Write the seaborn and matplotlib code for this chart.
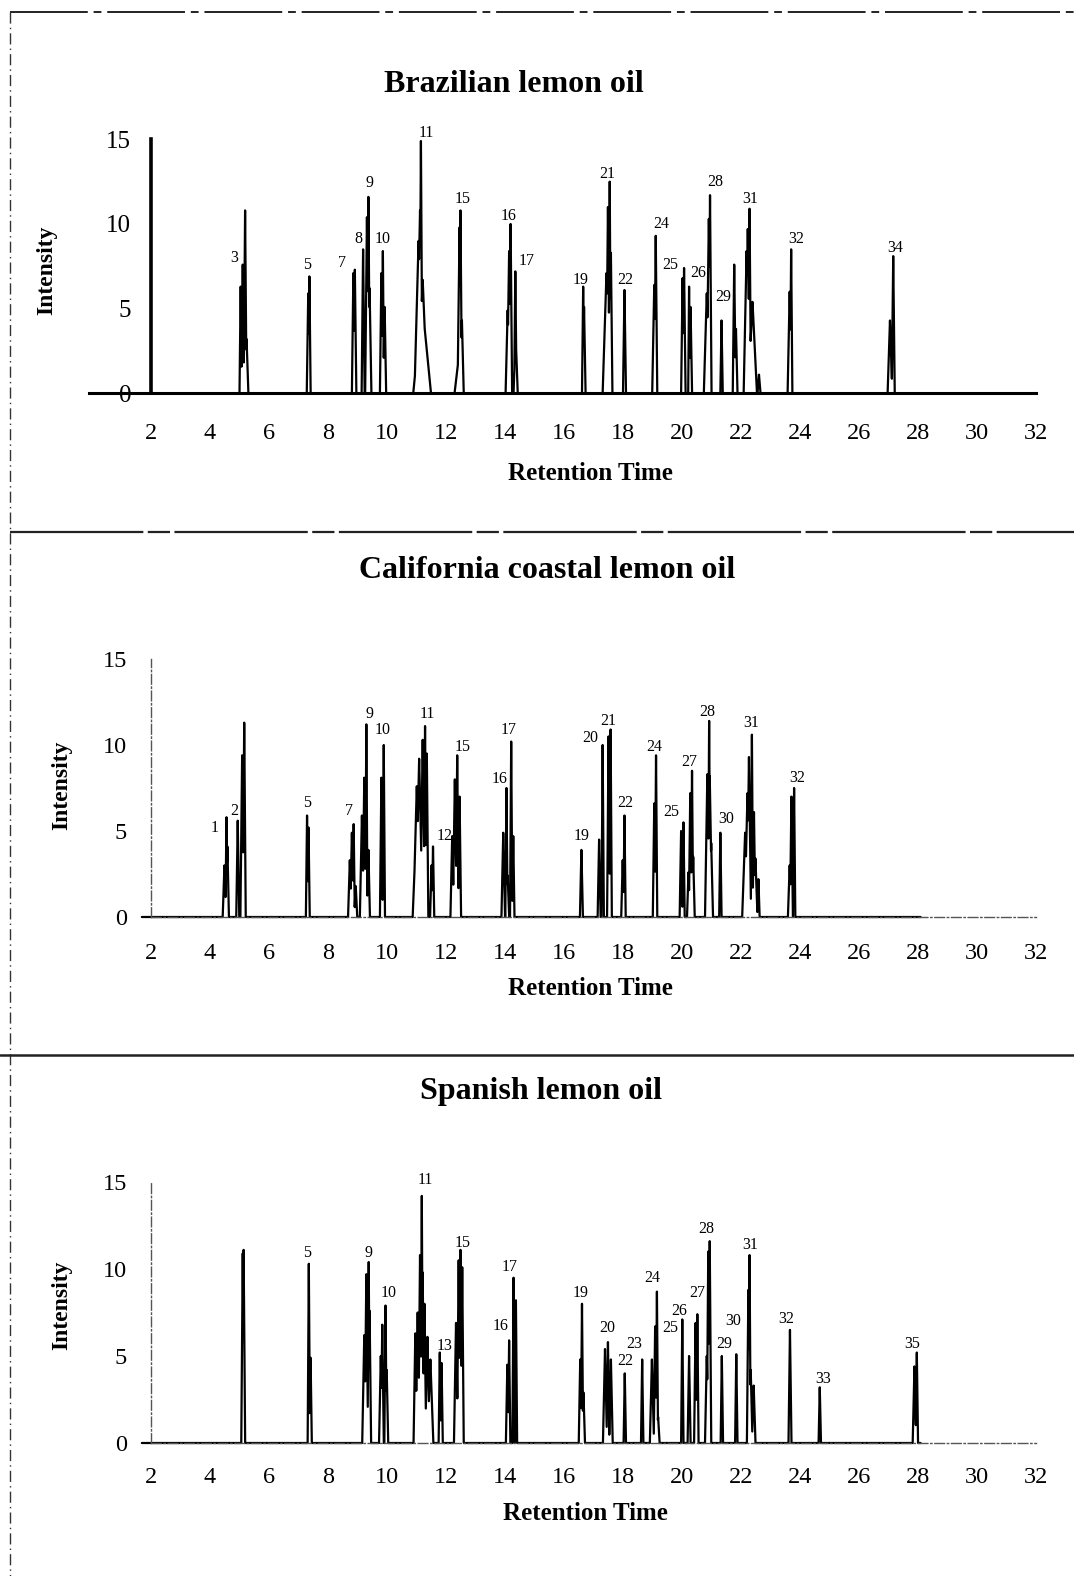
import numpy as np
import pandas as pd
import matplotlib
matplotlib.use("Agg")
import matplotlib.pyplot as plt
import seaborn as sns
from matplotlib.lines import Line2D

sns.set_theme(style="white")
plt.rcParams["font.family"] = ["Liberation Serif", "DejaVu Serif"]
plt.rcParams["text.color"] = "black"
plt.rcParams["xtick.color"] = "black"
plt.rcParams["ytick.color"] = "black"

# ---- peak tables (retention time, height, half width) ----
bra_rt = [5.05, 5.12, 5.20, 5.25, 7.38, 7.34, 8.92, 8.87, 9.20, 9.38, 9.33, 9.42,
          9.87, 9.82, 9.93, 11.16, 11.13, 11.08, 11.22, 11.20, 12.50, 12.47, 12.45, 12.55,
          14.20, 14.15, 14.10, 14.36, 14.37, 16.66, 16.69, 17.56, 17.50, 17.45, 17.60,
          18.06, 19.12, 19.07, 20.08, 20.03, 20.25, 20.30, 20.96, 20.92, 20.85, 21.35,
          21.78, 21.84, 22.30, 22.24, 22.20, 22.40, 22.62, 23.71, 23.66, 27.17, 27.06]
bra_h = [6.3, 7.6, 10.8, 3.2, 6.9, 5.9, 7.3, 7.1, 8.5, 11.6, 10.4, 6.2,
         8.4, 7.1, 5.1, 14.9, 10.8, 9.0, 6.7, 5.4, 10.8, 9.8, 2.2, 4.3,
         10.0, 8.4, 4.9, 7.2, 3.5, 6.3, 5.1, 12.5, 11.0, 7.1, 8.3,
         6.1, 9.3, 6.4, 7.4, 6.8, 6.3, 5.1, 11.7, 10.3, 5.9, 4.3,
         7.6, 3.8, 10.9, 9.7, 8.4, 5.4, 1.1, 8.5, 6.0, 8.1, 4.3]
bra_w = [0.04, 0.05, 0.05, 0.06, 0.04, 0.05, 0.05, 0.05, 0.05, 0.05, 0.06, 0.06,
         0.04, 0.05, 0.05, 0.05, 0.12, 0.14, 0.15, 0.30, 0.05, 0.07, 0.15, 0.06,
         0.05, 0.07, 0.07, 0.04, 0.07, 0.04, 0.05, 0.04, 0.06, 0.13, 0.05,
         0.05, 0.05, 0.07, 0.05, 0.05, 0.03, 0.05, 0.05, 0.08, 0.10, 0.04,
         0.05, 0.05, 0.05, 0.08, 0.10, 0.15, 0.05, 0.04, 0.07, 0.05, 0.08]

cal_rt = [4.57, 4.60, 4.50, 4.95, 5.17, 5.10, 7.30, 7.35, 8.88, 8.82, 8.75, 8.95,
          9.31, 9.24, 9.16, 9.38, 9.90, 9.82, 11.30, 11.22, 11.10, 11.02, 11.00, 11.36,
          11.57, 11.52, 12.39, 12.31, 12.22, 12.47, 14.06, 13.95, 14.10, 14.22, 14.29,
          16.60, 17.32, 17.20, 17.59, 17.52, 18.06, 18.00, 19.13, 19.07, 20.06, 19.98,
          20.35, 20.29, 20.39, 20.23, 20.93, 20.87, 20.95, 21.00, 21.31,
          22.38, 22.28, 22.23, 22.15, 22.45, 22.50, 22.60, 23.81, 23.72, 23.66]
cal_h = [5.8, 4.1, 3.0, 5.6, 11.3, 9.4, 5.9, 5.2, 5.4, 4.9, 3.3, 1.8,
         11.2, 8.1, 5.9, 3.9, 10.0, 8.1, 11.1, 10.3, 9.2, 7.6, 4.9, 9.5,
         4.1, 3.0, 9.4, 8.0, 4.7, 7.0, 7.5, 4.9, 2.4, 10.2, 4.7,
         3.9, 10.0, 4.5, 10.9, 10.5, 5.9, 3.3, 9.4, 6.6, 5.5, 5.0,
         8.5, 7.2, 3.5, 2.6, 11.4, 8.3, 8.2, 4.3, 4.9,
         10.6, 9.3, 7.2, 4.9, 6.1, 3.4, 2.2, 7.5, 7.0, 3.0]
cal_w = [0.04, 0.05, 0.06, 0.05, 0.05, 0.06, 0.04, 0.04, 0.04, 0.06, 0.06, 0.05,
         0.04, 0.06, 0.07, 0.05, 0.04, 0.05, 0.05, 0.08, 0.12, 0.12, 0.12, 0.05,
         0.04, 0.05, 0.05, 0.07, 0.06, 0.05, 0.04, 0.06, 0.05, 0.04, 0.04,
         0.05, 0.04, 0.05, 0.04, 0.05, 0.04, 0.05, 0.04, 0.05, 0.04, 0.05,
         0.04, 0.05, 0.05, 0.05, 0.04, 0.08, 0.08, 0.06, 0.04,
         0.04, 0.07, 0.10, 0.10, 0.05, 0.07, 0.04, 0.04, 0.05, 0.06]

spa_rt = [5.15, 5.12, 7.36, 7.42, 9.39, 9.31, 9.24, 9.42, 9.96, 9.85, 9.80, 10.00,
          11.19, 11.13, 11.22, 11.05, 10.97, 11.28, 11.38, 11.48, 11.80, 11.86,
          12.50, 12.44, 12.35, 12.56, 14.15, 14.09, 14.30, 14.38, 16.62, 16.56, 16.67,
          17.50, 17.40, 17.60, 18.07, 18.66, 19.16, 19.10, 18.99, 19.20, 20.02, 20.25,
          20.53, 20.47, 20.95, 20.90, 20.85, 21.36, 21.85, 22.30, 22.26, 22.34, 22.44,
          23.67, 24.68, 27.97, 27.89]
spa_h = [11.1, 10.9, 10.3, 4.9, 10.4, 9.7, 6.2, 7.6, 7.9, 6.8, 5.0, 4.2,
         14.2, 10.8, 9.8, 7.5, 6.3, 8.0, 6.1, 4.8, 5.2, 4.6,
         11.1, 10.5, 6.9, 10.1, 5.9, 4.5, 9.5, 8.2, 8.0, 4.8, 2.9,
         5.8, 5.4, 4.8, 4.0, 4.8, 8.7, 6.7, 4.8, 1.5, 7.1, 5.0,
         7.4, 6.9, 11.6, 11.0, 5.0, 5.0, 5.1, 10.8, 8.8, 4.2, 3.3,
         6.5, 3.2, 5.2, 4.4]
spa_w = [0.05, 0.05, 0.04, 0.04, 0.04, 0.06, 0.07, 0.05, 0.04, 0.05, 0.06, 0.05,
         0.04, 0.06, 0.05, 0.08, 0.06, 0.06, 0.08, 0.10, 0.04, 0.04,
         0.05, 0.06, 0.07, 0.05, 0.04, 0.05, 0.04, 0.04, 0.04, 0.05, 0.05,
         0.05, 0.07, 0.06, 0.04, 0.04, 0.04, 0.05, 0.07, 0.05, 0.04, 0.05,
         0.04, 0.05, 0.05, 0.05, 0.06, 0.04, 0.04, 0.04, 0.05, 0.06, 0.06,
         0.05, 0.04, 0.04, 0.06]

# ---- peak number labels (text, time, intensity) ----
bra_lab = ["3", "5", "7", "8", "9", "10", "11", "15", "16", "17", "19", "21", "22",
           "24", "25", "26", "28", "29", "31", "32", "34"]
bra_lab_x = [4.84, 7.30, 8.47, 9.05, 9.40, 9.87, 11.33, 12.56, 14.12, 14.73, 16.59,
             17.48, 18.09, 19.29, 19.61, 20.55, 21.13, 21.42, 22.31, 23.89, 27.23]
bra_lab_y = [8.0, 7.6, 7.7, 9.1, 12.4, 9.1, 15.4, 11.5, 10.5, 7.8, 6.7,
             12.95, 6.7, 10.0, 7.6, 7.1, 12.5, 5.7, 11.5, 9.1, 8.6]

cal_lab = ["1", "2", "5", "7", "9", "10", "11", "12", "15", "16", "17", "19", "20",
           "21", "22", "24", "25", "27", "28", "30", "31", "32"]
cal_lab_x = [4.16, 4.82, 7.30, 8.73, 9.40, 9.87, 11.37, 11.98, 12.58, 13.82, 14.14,
             16.60, 16.91, 17.52, 18.10, 19.07, 19.63, 20.27, 20.87, 21.51, 22.36, 23.90]
cal_lab_y = [5.2, 6.15, 6.6, 6.15, 11.8, 10.9, 11.8, 4.7, 9.9, 8.0, 10.9,
             4.7, 10.4, 11.4, 6.6, 9.9, 6.1, 9.0, 11.9, 5.7, 11.3, 8.1]

spa_lab = ["5", "9", "10", "11", "13", "15", "16", "17", "19", "20", "22", "23", "24",
           "25", "26", "27", "28", "29", "30", "31", "32", "33", "35"]
spa_lab_x = [7.31, 9.37, 10.08, 11.30, 11.95, 12.56, 13.85, 14.18, 16.56, 17.46,
             18.07, 18.38, 18.99, 19.60, 19.92, 20.53, 20.82, 21.44, 21.76, 22.32,
             23.55, 24.78, 27.83]
spa_lab_y = [10.9, 10.9, 8.6, 15.1, 5.6, 11.5, 6.7, 10.1, 8.6, 6.6, 4.7, 5.7, 9.5,
             6.6, 7.6, 8.6, 12.3, 5.7, 7.0, 11.4, 7.1, 3.7, 5.7]

titles = ["Brazilian lemon oil", "California coastal lemon oil", "Spanish lemon oil"]
x_ticks = list(range(2, 33, 2))
y_ticks = [0, 5, 10, 15]

W, H = 1074, 1576
fig = plt.figure(figsize=(W / 100, H / 100), dpi=100)


def chromatogram(rt, h, w):
    t = np.union1d(np.arange(1.7, 28.1, 0.002), rt)
    y = np.zeros_like(t)
    for c, hh, ww in zip(rt, h, w):
        y = np.maximum(y, hh * np.clip(1 - np.abs(t - c) / ww, 0, None))
    return pd.DataFrame({"time": t, "intensity": y})


def make_axes(y0px, y15px, xlim=(-0.1, 32.5), ylim=(-1.2, 16.5)):
    x2px, x32px = 150.7, 1035.7
    sx = (x32px - x2px) / 30
    sy = (y0px - y15px) / 15
    lpx = x2px + (xlim[0] - 2) * sx
    rpx = x2px + (xlim[1] - 2) * sx
    bpx = y0px - ylim[0] * sy
    tpx = y0px - ylim[1] * sy
    ax = fig.add_axes([lpx / W, 1 - bpx / H, (rpx - lpx) / W, (bpx - tpx) / H])
    ax.set_xlim(*xlim)
    ax.set_ylim(*ylim)
    ax.set_facecolor("none")
    return ax


panels = [
    (chromatogram(bra_rt, bra_h, bra_w), bra_lab, bra_lab_x, bra_lab_y, 393.3, 139.3),
    (chromatogram(cal_rt, cal_h, cal_w), cal_lab, cal_lab_x, cal_lab_y, 917.0, 659.0),
    (chromatogram(spa_rt, spa_h, spa_w), spa_lab, spa_lab_x, spa_lab_y, 1443.0, 1182.0),
]
title_pos = [(514, 84), (547, 571), (541, 1091)]
xlab_pos = [(590, 473), (590, 989), (585, 1513)]
ylab_pos = [(47, 270), (62, 785), (62, 1305)]
xpad = [15, 16, 14]

for i, (df, labs, lx, ly, y0px, y15px) in enumerate(panels):
    ax = make_axes(y0px, y15px)
    sns.lineplot(data=df, x="time", y="intensity", ax=ax, color="black",
                 lw=1.6, estimator=None, sort=False)
    ax.set_xlabel("")
    ax.set_ylabel("")
    ax.set_xticks(x_ticks)
    ax.set_yticks(y_ticks)
    ax.spines["top"].set_visible(False)
    ax.spines["right"].set_visible(False)
    ax.spines["left"].set_position(("data", 2))
    ax.spines["bottom"].set_position(("data", 0))
    ax.spines["left"].set_bounds(0, 15)
    if i == 0:
        ax.spines["bottom"].set_bounds(-0.1, 32)
        ax.spines["left"].set_linewidth(2.6)
        ax.spines["bottom"].set_linewidth(2.2)
        for sp in ("left", "bottom"):
            ax.spines[sp].set_color("black")
        ax.tick_params(axis="x", direction="inout", length=13, width=2,
                       color="black", labelsize=17.5, pad=xpad[i])
        ax.tick_params(axis="y", direction="inout", length=12, width=2,
                       color="black", labelsize=18, pad=8)
    else:
        ax.spines["bottom"].set_bounds(2, 32)
        for sp in ("left", "bottom"):
            ax.spines[sp].set_color("#555555")
            ax.spines[sp].set_linewidth(1.0)
            ax.spines[sp].set_linestyle((0, (7, 2, 1, 2)))
        ax.tick_params(axis="x", direction="out", length=3, width=1,
                       color="#777777", labelsize=17.5, pad=xpad[i])
        ax.tick_params(axis="y", direction="inout", length=10, width=1,
                       color="#555555", labelsize=17.5, pad=12)
    for lab, x, y in zip(labs, lx, ly):
        ax.text(x, y, lab, ha="center", va="center", fontsize=11.5, color="black")

    fig.text(title_pos[i][0] / W, 1 - title_pos[i][1] / H, titles[i],
             ha="center", va="center", fontsize=23, fontweight="bold")
    fig.text(xlab_pos[i][0] / W, 1 - xlab_pos[i][1] / H, "Retention Time",
             ha="center", va="center", fontsize=18, fontweight="bold")
    fig.text(ylab_pos[i][0] / W, 1 - ylab_pos[i][1] / H, "Intensity",
             ha="center", va="center", fontsize=17, fontweight="bold", rotation=90)

# frame lines of the scanned page
frame = [((10, 1074), (12, 12), (0, (40, 3, 4, 3)), 1.4, "#222222"),
         ((10, 10), (12, 1576), (0, (8, 3, 1, 3)), 1.0, "#333333"),
         ((10, 1074), (532, 532), (0, (60, 2, 10, 2)), 1.6, "#222222"),
         ((0, 1074), (1055, 1055), "-", 1.8, "#222222")]
for xs, ys, ls, lw, col in frame:
    fig.add_artist(Line2D([x / W for x in xs], [1 - y / H for y in ys],
                          transform=fig.transFigure, ls=ls, lw=lw, color=col))

fig.savefig("out.png", dpi=100)
